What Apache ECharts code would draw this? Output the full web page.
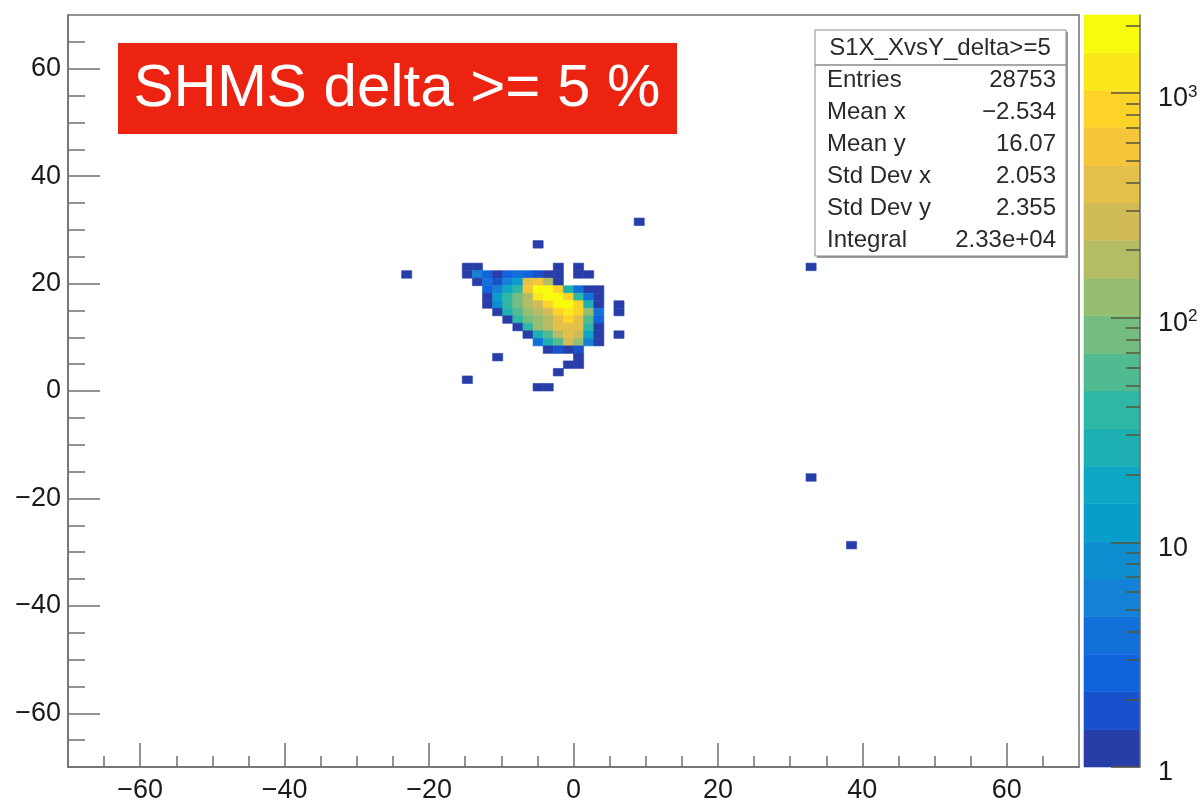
<!DOCTYPE html>
<html><head><meta charset="utf-8">
<script src="https://cdn.jsdelivr.net/npm/echarts@6/dist/echarts.min.js"></script>
<style>html,body{margin:0;padding:0;background:#fff}#c{width:1203px;height:806px}</style>
</head><body><div id="c"></div>
<script>
// ---- axis ticks ----
const xMajorTicks = [-60, -40, -20, 0, 20, 40, 60];
const xMinorTicks = [-65, -55, -50, -45, -35, -30, -25, -15, -10, -5, 5, 10, 15, 25, 30, 35, 45, 50, 55, 65];
const yMajorTicks = [-60, -40, -20, 0, 20, 40, 60];
const yMinorTicks = [-65, -55, -50, -45, -35, -30, -25, -15, -10, -5, 5, 10, 15, 25, 30, 35, 45, 50, 55, 65];
const zMajorTicks = [1, 10, 100, 1000];
const zMinorTicks = [2,3,4,5,6,7,8,9,20,30,40,50,60,70,80,90,200,300,400,500,600,700,800,900,2000];
const axisRange = [-70, 70];
const zRange = [1, 2225];
const nContours = 20;
const binWidth = 1.4;

// ---- histogram bins (centers, counts) ----
const binX = [
  9.1,
  -4.9,
  -14.7, -13.3, -2.1, 0.7, 32.9,
  -23.1, -14.7, -13.3, -11.9, -10.5, -9.1, -7.7, -6.3, -4.9, -3.5, -2.1, 0.7, 2.1,
  -13.3, -11.9, -10.5, -9.1, -7.7, -6.3, -4.9, -3.5, -2.1,
  -11.9, -10.5, -9.1, -7.7, -6.3, -4.9, -3.5, -2.1, -0.7, 0.7, 2.1, 3.5,
  -11.9, -10.5, -9.1, -7.7, -6.3, -4.9, -3.5, -2.1, -0.7, 0.7, 2.1, 3.5,
  -11.9, -10.5, -9.1, -7.7, -6.3, -4.9, -3.5, -2.1, -0.7, 0.7, 2.1, 3.5, 6.3,
  -10.5, -9.1, -7.7, -6.3, -4.9, -3.5, -2.1, -0.7, 0.7, 2.1, 3.5, 6.3,
  -9.1, -7.7, -6.3, -4.9, -3.5, -2.1, -0.7, 0.7, 2.1, 3.5,
  -7.7, -6.3, -4.9, -3.5, -2.1, -0.7, 0.7, 2.1, 3.5,
  -6.3, -4.9, -3.5, -2.1, -0.7, 0.7, 2.1, 3.5, 6.3,
  -4.9, -3.5, -2.1, -0.7, 0.7, 2.1, 3.5,
  -3.5, -2.1, -0.7, 0.7,
  -10.5, 0.7,
  -0.7, 0.7,
  -2.1,
  -14.7,
  -4.9, -3.5,
  32.9,
  38.5
];
const binY = [
  31.5,
  27.3,
  23.1, 23.1, 23.1, 23.1, 23.1,
  21.7, 21.7, 21.7, 21.7, 21.7, 21.7, 21.7, 21.7, 21.7, 21.7, 21.7, 21.7, 21.7,
  20.3, 20.3, 20.3, 20.3, 20.3, 20.3, 20.3, 20.3, 20.3,
  18.9, 18.9, 18.9, 18.9, 18.9, 18.9, 18.9, 18.9, 18.9, 18.9, 18.9, 18.9,
  17.5, 17.5, 17.5, 17.5, 17.5, 17.5, 17.5, 17.5, 17.5, 17.5, 17.5, 17.5,
  16.1, 16.1, 16.1, 16.1, 16.1, 16.1, 16.1, 16.1, 16.1, 16.1, 16.1, 16.1, 16.1,
  14.7, 14.7, 14.7, 14.7, 14.7, 14.7, 14.7, 14.7, 14.7, 14.7, 14.7, 14.7,
  13.3, 13.3, 13.3, 13.3, 13.3, 13.3, 13.3, 13.3, 13.3, 13.3,
  11.9, 11.9, 11.9, 11.9, 11.9, 11.9, 11.9, 11.9, 11.9,
  10.5, 10.5, 10.5, 10.5, 10.5, 10.5, 10.5, 10.5, 10.5,
  9.1, 9.1, 9.1, 9.1, 9.1, 9.1, 9.1,
  7.7, 7.7, 7.7, 7.7,
  6.3, 6.3,
  4.9, 4.9,
  3.5,
  2.1,
  0.7, 0.7,
  -16.1,
  -28.7
];
const binCount = [
  1,
  1,
  1, 1, 1, 1, 1,
  1, 1, 6, 3, 1, 3, 4, 3, 2, 1, 1, 1, 1,
  1, 4, 2, 6, 14, 400, 700, 160, 1,
  3, 5, 18, 35, 500, 1700, 2000, 1000, 25, 4, 1, 1,
  1, 12, 35, 70, 200, 1100, 2100, 1900, 900, 40, 4, 1,
  1, 7, 40, 80, 150, 300, 1000, 1800, 1600, 800, 30, 1, 1,
  1, 25, 60, 130, 160, 320, 850, 1300, 750, 110, 4, 1,
  1, 35, 80, 140, 180, 450, 750, 450, 60, 3,
  1, 40, 120, 150, 400, 420, 400, 35, 1,
  1, 30, 60, 180, 380, 280, 18, 1, 1,
  4, 30, 60, 230, 140, 6, 1,
  1, 2, 1, 2,
  1, 1,
  1, 1,
  1,
  1,
  1, 1,
  1,
  1
];

// ---- texts ----
const labelText = 'SHMS delta >= 5 %';
const statsTitle = 'S1X_XvsY_delta>=5';
const statsLabels = ['Entries', 'Mean x', 'Mean y', 'Std Dev x', 'Std Dev y', 'Integral'];
const statsValues = ['28753', '\u22122.534', '16.07', '2.053', '2.355', '2.33e+04'];

// ---- ROOT kBird palette ----
const birdStops = [0.0, 0.125, 0.25, 0.375, 0.5, 0.625, 0.75, 0.875, 1.0];
const birdR = [0.2082, 0.0592, 0.0780, 0.0232, 0.1802, 0.5301, 0.8186, 0.9956, 0.9764];
const birdG = [0.1664, 0.3599, 0.5041, 0.6419, 0.7178, 0.7492, 0.7328, 0.7862, 0.9832];
const birdB = [0.5293, 0.8684, 0.8385, 0.7914, 0.6425, 0.4662, 0.3499, 0.1968, 0.0539];
function bird(f) {
  let s = 0;
  while (s < birdStops.length - 2 && f > birdStops[s + 1]) s++;
  const t = (f - birdStops[s]) / (birdStops[s + 1] - birdStops[s]);
  const c = a => Math.round(255 * (a[s] + (a[s + 1] - a[s]) * t));
  return 'rgb(' + c(birdR) + ',' + c(birdG) + ',' + c(birdB) + ')';
}
const zLogMin = Math.log10(zRange[0]), zLogMax = Math.log10(zRange[1]);
const zStep = (zLogMax - zLogMin) / nContours;
function bandColor(k) {
  const idx = Math.min(254, Math.floor((k + 0.99) * 255 / nContours));
  return bird(idx / 254);
}
function countColor(c) {
  let k = Math.floor((Math.log10(c) - zLogMin) / zStep);
  k = Math.max(0, Math.min(nContours - 1, k));
  return bandColor(k);
}

const FONT = 'Liberation Sans';
const AXC = '#6f6f6f';
const TICKZ = '#55553a';
const fmtNum = v => (v < 0 ? '\u2212' + Math.abs(v) : String(v));

const histData = binX.map((x, i) => [x, binY[i], binCount[i]]);
const bandData = Array.from({length: nContours}, (_, k) => [k]);

const chart = echarts.init(document.getElementById('c'), null, {renderer: 'canvas'});
chart.setOption({
  animation: false,
  backgroundColor: '#ffffff',
  grid: [
    {left: 68, top: 15, width: 1011, height: 752, show: true, borderColor: AXC, borderWidth: 1.5, backgroundColor: 'transparent'},
    {left: 1084, top: 15, width: 56, height: 752, show: false}
  ],
  xAxis: [
    {gridIndex: 0, type: 'value', min: axisRange[0], max: axisRange[1], position: 'bottom', z: 5,
      axisLine: {show: true, onZero: false, lineStyle: {color: AXC, width: 1.5}},
      axisTick: {show: true, inside: true, length: 24, customValues: xMajorTicks, lineStyle: {color: AXC, width: 1.5}},
      axisLabel: {show: true, customValues: xMajorTicks, formatter: fmtNum, margin: 10, color: '#1a1a1a', fontSize: 27, fontFamily: FONT},
      splitLine: {show: false}},
    {gridIndex: 0, type: 'value', min: axisRange[0], max: axisRange[1], position: 'bottom', z: 5,
      axisLine: {show: false, onZero: false},
      axisTick: {show: true, inside: true, length: 11, customValues: xMinorTicks, lineStyle: {color: AXC, width: 1.5}},
      axisLabel: {show: false}, splitLine: {show: false}},
    {gridIndex: 1, type: 'value', min: 0, max: 1, show: false}
  ],
  yAxis: [
    {gridIndex: 0, type: 'value', min: axisRange[0], max: axisRange[1], position: 'left', z: 5,
      axisLine: {show: true, onZero: false, lineStyle: {color: AXC, width: 1.5}},
      axisTick: {show: true, inside: true, length: 32, customValues: yMajorTicks, lineStyle: {color: AXC, width: 1.5}},
      axisLabel: {show: true, customValues: yMajorTicks, formatter: fmtNum, margin: 7, color: '#1a1a1a', fontSize: 27, fontFamily: FONT},
      splitLine: {show: false}},
    {gridIndex: 0, type: 'value', min: axisRange[0], max: axisRange[1], position: 'left', z: 5,
      axisLine: {show: false, onZero: false},
      axisTick: {show: true, inside: true, length: 17, customValues: yMinorTicks, lineStyle: {color: AXC, width: 1.5}},
      axisLabel: {show: false}, splitLine: {show: false}},
    {gridIndex: 1, type: 'value', min: zLogMin, max: zLogMax, position: 'right', z: 5,
      axisLine: {show: true, onZero: false, lineStyle: {color: AXC, width: 1.5}},
      axisTick: {show: true, inside: true, length: 29, customValues: zMajorTicks.map(Math.log10), lineStyle: {color: TICKZ, width: 1.5}},
      axisLabel: {show: true, customValues: zMajorTicks.map(Math.log10), margin: 18, color: '#1a1a1a', fontSize: 27, fontFamily: FONT,
        padding: [12, 0, 0, 0],
        formatter: v => { const e = Math.round(v); return e === 0 ? '1' : e === 1 ? '10' : '10{s|' + e + '}'; },
        rich: {s: {fontSize: 17, fontFamily: FONT, color: '#1a1a1a', padding: [0, 0, 14, 0]}}},
      splitLine: {show: false}},
    {gridIndex: 1, type: 'value', min: zLogMin, max: zLogMax, position: 'right', z: 5,
      axisLine: {show: false, onZero: false},
      axisTick: {show: true, inside: true, length: 14, customValues: zMinorTicks.map(Math.log10), lineStyle: {color: TICKZ, width: 1.5}},
      axisLabel: {show: false}, splitLine: {show: false}}
  ],
  series: [
    {type: 'custom', xAxisIndex: 0, yAxisIndex: 0, data: histData, z: 1,
      renderItem: (params, api) => {
        const x = api.value(0), y = api.value(1), c = api.value(2);
        const p0 = api.coord([x - binWidth / 2, y + binWidth / 2]);
        const p1 = api.coord([x + binWidth / 2, y - binWidth / 2]);
        const col = countColor(c);
        return {type: 'rect', shape: {x: p0[0], y: p0[1], width: p1[0] - p0[0], height: p1[1] - p0[1]},
          style: {fill: col, stroke: col, lineWidth: 0.6}};
      }},
    {type: 'custom', xAxisIndex: 2, yAxisIndex: 2, data: bandData, z: 1,
      renderItem: (params, api) => {
        const k = api.value(0);
        const p0 = api.coord([0, zLogMin + (k + 1) * zStep]);
        const p1 = api.coord([1, zLogMin + k * zStep]);
        const col = bandColor(k);
        return {type: 'rect', shape: {x: p0[0], y: p0[1], width: p1[0] - p0[0], height: p1[1] - p0[1]},
          style: {fill: col, stroke: col, lineWidth: 0.6}};
      }}
  ],
  graphic: [
    {type: 'rect', shape: {x: 118, y: 43, width: 559, height: 91}, style: {fill: '#ec2310'}, z: 10},
    {type: 'text', x: 397, y: 89, z: 11, style: {text: labelText, fill: '#ffffff', fontSize: 60, fontFamily: FONT, align: 'center', verticalAlign: 'middle'}},
    {type: 'rect', shape: {x: 817, y: 32, width: 251, height: 226}, style: {fill: '#9a9a9a'}, z: 10},
    {type: 'rect', shape: {x: 815, y: 30, width: 251, height: 226}, style: {fill: '#ffffff', stroke: '#8a8a8a', lineWidth: 1}, z: 11},
    {type: 'line', shape: {x1: 815, y1: 65, x2: 1066, y2: 65}, style: {stroke: '#8a8a8a', lineWidth: 1.5}, z: 12},
    {type: 'text', x: 940, y: 48, z: 12, style: {text: statsTitle, fill: '#2a2a2a', fontSize: 24, fontFamily: FONT, align: 'center', verticalAlign: 'middle'}}
  ].concat(statsLabels.map((t, i) => ({type: 'text', x: 827, y: 80 + i * 32, z: 12,
      style: {text: t, fill: '#2a2a2a', fontSize: 24, fontFamily: FONT, align: 'left', verticalAlign: 'middle'}})))
   .concat(statsValues.map((t, i) => ({type: 'text', x: 1056, y: 80 + i * 32, z: 12,
      style: {text: t, fill: '#2a2a2a', fontSize: 24, fontFamily: FONT, align: 'right', verticalAlign: 'middle'}})))
});
</script>
</body></html>
